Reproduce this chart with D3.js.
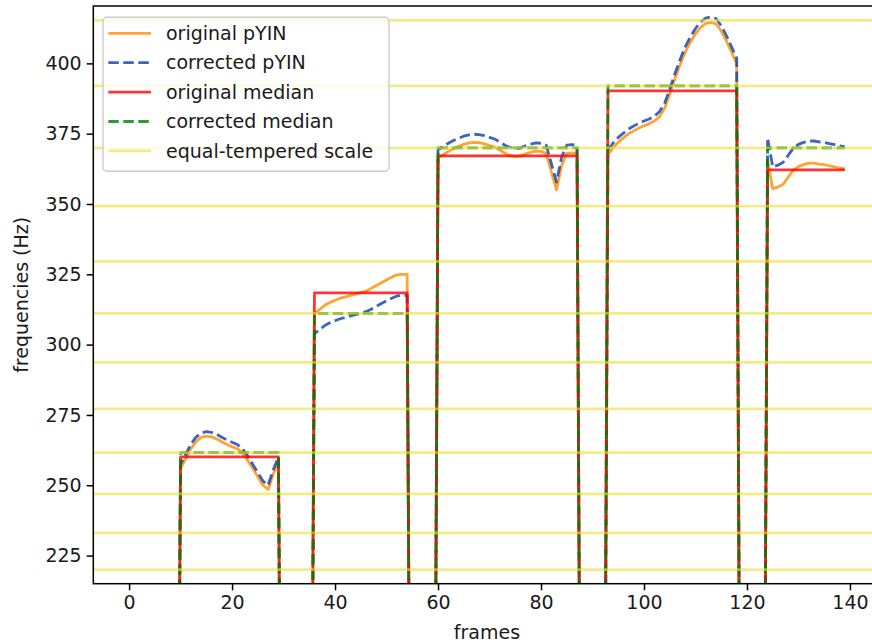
<!DOCTYPE html>
<html><head><meta charset="utf-8">
<script src="https://cdn.jsdelivr.net/npm/d3@7"></script>
<style>body{margin:0;background:#fff}svg{display:block}</style>
</head><body><svg id="c" width="872" height="643"></svg>
<script>
// ---------- data ----------
const frameCount = 140;
const noteStart = [10, 36, 60, 93, 124];
const noteEnd   = [29, 54, 87, 118, 139];
const origMedian = [260.1, 318.4, 367.1, 390.2, 362.1];
const corrMedian = [261.63, 311.13, 369.99, 392.00, 369.99];

const origPyinNote1 = [256,259.5,263,265.5,267,267.5,267.2,266.5,265.5,264.5,263.7,263,261.5,259,256,253,250,248.5,254,258.5];
const origPyinNote2 = [311,312.5,314,315,315.8,316.5,317,317.5,318,318.5,319,320,321,322,323,324,324.8,325,325];
const origPyinNote3 = [366.5,367.5,368.7,369.7,370.5,371.2,371.7,371.9,371.8,371.4,370.8,370.2,369.2,368,367.2,366.8,367,367.8,368.4,368.8,368.7,368,361.5,355,363.7,368,368.2,368];
const origPyinNote4 = [367.5,370,372,373.5,375,376,377,377.8,378.5,379.5,381,384,389,394.5,399.5,404,407.5,410.5,412.8,414.2,414.6,414,411.5,408,404,400];
const origPyinNote5 = [365.5,355.5,356,357,359.5,362,363.3,364,364.5,364.5,364.2,364,363.6,363.2,362.8,362.5];

const corrPyinNote1 = [257.5,261,264.6,267.1,268.6,269.1,268.8,268.1,267.1,266.1,265.3,264.5,263,260.5,257.5,254.5,251.5,250,255.5,260];
const corrPyinNote2 = [303.9,305.3,306.8,307.8,308.5,309.2,309.7,310.2,310.7,311.2,311.7,312.6,313.6,314.6,315.6,316.5,317.3,317.5,317.5];
const corrPyinNote3 = [369.4,370.4,371.6,372.6,373.4,374.1,374.6,374.8,374.7,374.3,373.7,373.1,372.1,370.9,370.1,369.7,369.9,370.7,371.3,371.7,371.6,370.9,364.4,357.8,366.6,370.9,371.1,370.9];
const corrPyinNote4 = [369.2,371.7,373.7,375.2,376.7,377.7,378.7,379.5,380.2,381.2,382.8,385.8,390.8,396.3,401.3,405.9,409.4,412.4,414.7,416.1,416.5,415.9,413.4,409.9,405.9,401.8];
const corrPyinNote5 = [373.5,363.2,363.8,364.8,367.3,369.9,371.2,371.9,372.4,372.4,372.1,371.9,371.5,371.1,370.7,370.4];

const etScale = [220.00, 233.08, 246.94, 261.63, 277.18, 293.66, 311.13, 329.63, 349.23, 369.99, 392.00, 415.30];
const xTicks = [0, 20, 40, 60, 80, 100, 120, 140];
const yTicks = [225, 250, 275, 300, 325, 350, 375, 400];
const legendLabels = ["original pYIN", "corrected pYIN", "original median", "corrected median", "equal-tempered scale"];

// ---------- build per-frame series ----------
function buildFromNotes(noteArrays){
  const s = new Array(frameCount).fill(0);
  noteArrays.forEach((arr, k) => arr.forEach((v, i) => { s[noteStart[k] + i] = v; }));
  return s;
}
function buildMedian(meds){
  const s = new Array(frameCount).fill(0);
  meds.forEach((m, k) => { for (let f = noteStart[k]; f <= noteEnd[k]; f++) s[f] = m; });
  return s;
}
const origPyin = buildFromNotes([origPyinNote1, origPyinNote2, origPyinNote3, origPyinNote4, origPyinNote5]);
const corrPyin = buildFromNotes([corrPyinNote1, corrPyinNote2, corrPyinNote3, corrPyinNote4, corrPyinNote5]);
const origMed = buildMedian(origMedian);
const corrMed = buildMedian(corrMedian);

// ---------- drawing ----------
const svg = d3.select("#c");
const L = 93.3, T = 6, B = 583.7, R = 880.6;
const x = d3.scaleLinear().domain([-6.95, 145.95]).range([L, R]);
const y = d3.scaleLinear().domain([215, 420.4]).range([B, T]);
const FONT = "DejaVu Sans, sans-serif";
const LW = 2.8;
const dash = "10.5,4.5";
const YELLOW = "#e9e03a", YELLOW_OP = 0.62;

svg.append("defs").append("clipPath").attr("id", "clip")
  .append("rect").attr("x", L).attr("y", T).attr("width", R - L).attr("height", B - T);

const g = svg.append("g").attr("clip-path", "url(#clip)");
const line = d3.line().x((d, i) => x(i)).y(d => y(d));

const styles = [
  {data: origPyin, color: "#ff8c00", op: 0.8, dash: null},
  {data: corrPyin, color: "#0a3fb0", op: 0.8, dash: dash},
  {data: origMed, color: "#ff0000", op: 0.8, dash: null},
  {data: corrMed, color: "#008000", op: 0.8, dash: dash},
];
styles.forEach(s => {
  g.append("path").datum(s.data).attr("d", line)
    .attr("fill", "none").attr("stroke", s.color).attr("stroke-opacity", s.op)
    .attr("stroke-width", LW).attr("stroke-dasharray", s.dash)
    .attr("stroke-linejoin", "round");
});
g.selectAll("line.et").data(etScale).enter().append("line")
  .attr("x1", L).attr("x2", R).attr("y1", d => y(d)).attr("y2", d => y(d))
  .attr("stroke", YELLOW).attr("stroke-opacity", YELLOW_OP).attr("stroke-width", LW);

// axes
const xAxis = svg.append("g").attr("transform", `translate(0,${B})`)
  .call(d3.axisBottom(x).tickValues(xTicks).tickSize(6.6).tickPadding(5).tickFormat(d3.format("d")));
const yAxis = svg.append("g").attr("transform", `translate(${L},0)`)
  .call(d3.axisLeft(y).tickValues(yTicks).tickSize(6.6).tickPadding(5).tickFormat(d3.format("d")));
[xAxis, yAxis].forEach(a => {
  a.select(".domain").remove();
  a.selectAll(".tick line").attr("stroke", "#000").attr("stroke-width", 1.5);
  a.selectAll(".tick text").attr("font-family", FONT).attr("font-size", 19).attr("fill", "#1a1a1a");
});
// spines
svg.append("rect").attr("x", L).attr("y", T).attr("width", R - L).attr("height", B - T)
  .attr("fill", "none").attr("stroke", "#000").attr("stroke-width", 1.5);

svg.append("text").attr("x", (L + R) / 2).attr("y", 639).attr("text-anchor", "middle")
  .attr("font-family", FONT).attr("font-size", 19).attr("fill", "#1a1a1a").text("frames");
svg.append("text").attr("transform", `translate(28,${(T + B) / 2}) rotate(-90)`).attr("text-anchor", "middle")
  .attr("font-family", FONT).attr("font-size", 19).attr("fill", "#1a1a1a").text("frequencies (Hz)");

// legend
const lg = svg.append("g");
lg.append("rect").attr("x", 103).attr("y", 17.3).attr("width", 286).attr("height", 154).attr("rx", 4)
  .attr("fill", "#fff").attr("fill-opacity", 0.8).attr("stroke", "#cccccc").attr("stroke-width", 1.4);
const legStyles = [
  {color: "#ff8c00", op: 0.8, dash: null},
  {color: "#0a3fb0", op: 0.8, dash: dash},
  {color: "#ff0000", op: 0.8, dash: null},
  {color: "#008000", op: 0.8, dash: dash},
  {color: YELLOW, op: YELLOW_OP, dash: null},
];
legendLabels.forEach((lab, i) => {
  const cy = 33.3 + i * 29.4;
  lg.append("line").attr("x1", 108.3).attr("x2", 151).attr("y1", cy).attr("y2", cy)
    .attr("stroke", legStyles[i].color).attr("stroke-opacity", legStyles[i].op)
    .attr("stroke-width", LW).attr("stroke-dasharray", legStyles[i].dash);
  lg.append("text").attr("x", 166).attr("y", cy).attr("dy", "0.35em")
    .attr("font-family", FONT).attr("font-size", 19).attr("fill", "#1a1a1a").text(lab);
});
</script></body></html>
